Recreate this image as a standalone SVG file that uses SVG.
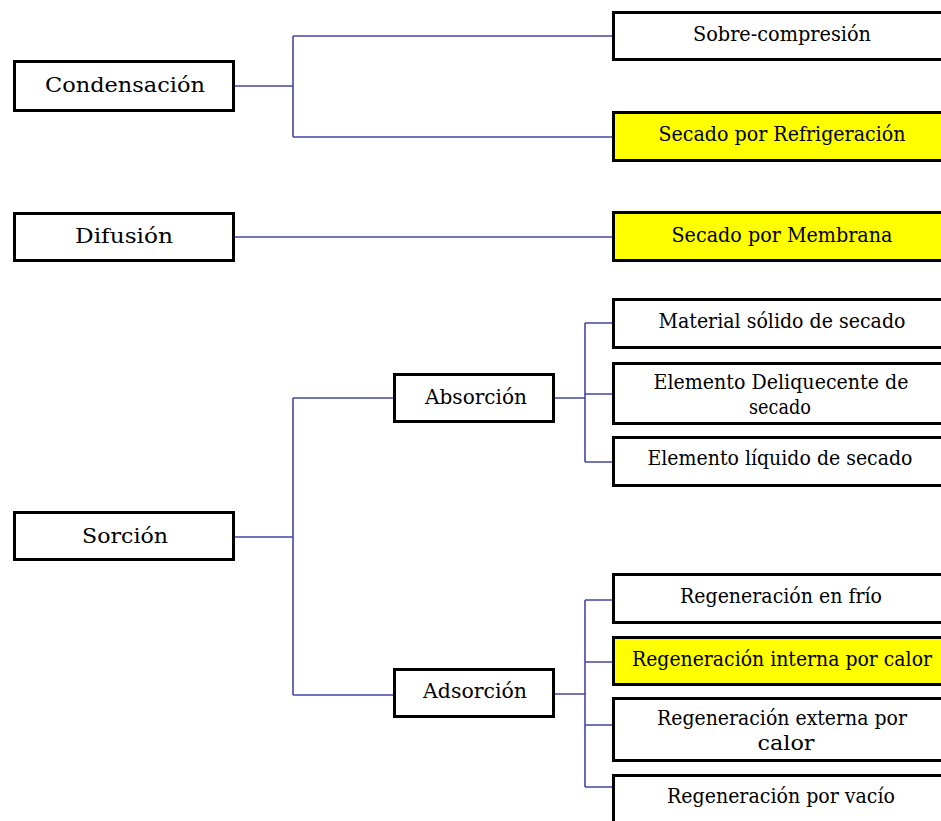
<svg xmlns="http://www.w3.org/2000/svg" width="941" height="821" viewBox="0 0 941 821">
  <style>
    .box { fill: #ffffff; stroke: #000000; stroke-width: 3; }
    .hl { fill: #ffff00; }
    .t { font-family: 'DejaVu Serif', 'Liberation Serif', serif; font-size: 21px; fill: #000000; text-anchor: middle; }
    .wire { fill: none; stroke: #4646a6; stroke-width: 1.6; }
  </style>
  <rect width="941" height="821" fill="#ffffff"/>

  <!-- connectors -->
  <g id="connectors">
    <path class="wire" d="M235 86 H293 M293 36 V137 M293 36 H612 M293 137 H612"/>
    <path class="wire" d="M235 237 H612"/>
    <path class="wire" d="M235 537 H293 M293 398 V695 M293 398 H393 M293 695 H393"/>
    <path class="wire" d="M555 398 H585 M585 323 V462 M585 323 H612 M585 394 H612 M585 462 H612"/>
    <path class="wire" d="M555 694 H585 M585 600 V787 M585 600 H612 M585 662 H612 M585 725 H612 M585 787 H612"/>
  </g>

  <!-- left column -->
  <g id="condensacion">
    <rect class="box" x="14.5" y="61.5" width="219" height="49"/>
    <text class="t" x="125" y="92" textLength="160" lengthAdjust="spacingAndGlyphs">Condensación</text>
  </g>
  <g id="difusion">
    <rect class="box" x="14.5" y="213.5" width="219" height="47"/>
    <text class="t" x="124" y="243" textLength="98" lengthAdjust="spacingAndGlyphs">Difusión</text>
  </g>
  <g id="sorcion">
    <rect class="box" x="14.5" y="512.5" width="219" height="47"/>
    <text class="t" x="125" y="543" textLength="86" lengthAdjust="spacingAndGlyphs">Sorción</text>
  </g>

  <!-- middle column -->
  <g id="absorcion">
    <rect class="box" x="394.5" y="374.5" width="159" height="47"/>
    <text class="t" x="476" y="404" textLength="102" lengthAdjust="spacingAndGlyphs">Absorción</text>
  </g>
  <g id="adsorcion">
    <rect class="box" x="394.5" y="669.5" width="159" height="47"/>
    <text class="t" x="475" y="698" textLength="104" lengthAdjust="spacingAndGlyphs">Adsorción</text>
  </g>

  <!-- right column -->
  <g id="sobre-compresion">
    <rect class="box" x="613.5" y="12.5" width="340" height="47"/>
    <text class="t" x="782" y="41" textLength="178" lengthAdjust="spacingAndGlyphs">Sobre-compresión</text>
  </g>
  <g id="secado-refrigeracion">
    <rect class="box hl" x="613.5" y="112.5" width="340" height="48"/>
    <text class="t" x="782" y="141" textLength="247" lengthAdjust="spacingAndGlyphs">Secado por Refrigeración</text>
  </g>
  <g id="secado-membrana">
    <rect class="box hl" x="613.5" y="212.5" width="340" height="48"/>
    <text class="t" x="782" y="242" textLength="221" lengthAdjust="spacingAndGlyphs">Secado por Membrana</text>
  </g>
  <g id="material-solido">
    <rect class="box" x="613.5" y="299.5" width="340" height="48"/>
    <text class="t" x="782" y="328" textLength="247" lengthAdjust="spacingAndGlyphs">Material sólido de secado</text>
  </g>
  <g id="elemento-deliquecente">
    <rect class="box" x="613.5" y="363.5" width="340" height="60"/>
    <text class="t" x="781" y="389" font-size="20" textLength="255" lengthAdjust="spacingAndGlyphs">Elemento Deliquecente de</text>
    <text class="t" x="780" y="414" font-size="20" textLength="62" lengthAdjust="spacingAndGlyphs">secado</text>
  </g>
  <g id="elemento-liquido">
    <rect class="box" x="613.5" y="437.5" width="340" height="48"/>
    <text class="t" x="780" y="465" textLength="265" lengthAdjust="spacingAndGlyphs">Elemento líquido de secado</text>
  </g>
  <g id="regeneracion-frio">
    <rect class="box" x="613.5" y="574.5" width="340" height="48"/>
    <text class="t" x="781" y="603" textLength="202" lengthAdjust="spacingAndGlyphs">Regeneración en frío</text>
  </g>
  <g id="regeneracion-interna">
    <rect class="box hl" x="613.5" y="637.5" width="340" height="47"/>
    <text class="t" x="782" y="666" textLength="300" lengthAdjust="spacingAndGlyphs">Regeneración interna por calor</text>
  </g>
  <g id="regeneracion-externa">
    <rect class="box" x="613.5" y="698.5" width="340" height="62"/>
    <text class="t" x="782" y="725" font-size="20" textLength="250" lengthAdjust="spacingAndGlyphs">Regeneración externa por</text>
    <text class="t" x="786" y="750" font-size="20" textLength="57" lengthAdjust="spacingAndGlyphs">calor</text>
  </g>
  <g id="regeneracion-vacio">
    <rect class="box" x="613.5" y="775.5" width="340" height="60"/>
    <text class="t" x="781" y="803" textLength="228" lengthAdjust="spacingAndGlyphs">Regeneración por vacío</text>
  </g>
</svg>
